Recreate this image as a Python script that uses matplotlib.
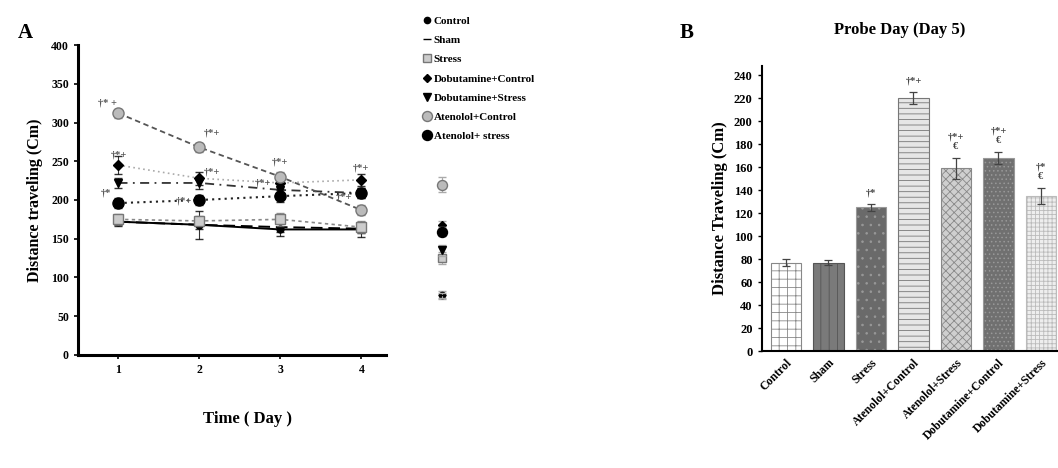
import matplotlib
matplotlib.use("Agg")
import matplotlib.pyplot as plt
import numpy as np

plt.rcParams['font.family'] = ['Liberation Serif', 'DejaVu Serif']
plt.rcParams['font.weight'] = 'bold'
plt.rcParams['hatch.linewidth'] = 0.6

# ---------------- Panel A data ----------------
days = [1, 2, 3, 4]
probe_day = 5
series_names = ["Control", "Sham", "Stress", "Dobutamine+Control",
                "Dobutamine+Stress", "Atenolol+Control", "Atenolol+ stress"]
control_vals = [172, 168, 162, 162]
sham_vals = [172, 168, 165, 163]
stress_vals = [175, 173, 175, 165]
dob_control_vals = [245, 228, 222, 226]
dob_stress_vals = [222, 222, 213, 209]
aten_control_vals = [312, 268, 230, 187]
aten_stress_vals = [196, 200, 205, 209]
control_err = [6, 18, 8, 10]
sham_err = [4, 6, 6, 6]
stress_err = [7, 6, 8, 8]
dob_control_err = [12, 8, 8, 8]
dob_stress_err = [6, 8, 8, 6]
aten_control_err = [6, 6, 6, 6]
aten_stress_err = [6, 6, 8, 6]
day5_vals = [77, 77, 125, 168, 135, 220, 159]
day5_err = [5, 3, 8, 5, 7, 10, 6]

# ---------------- Panel B data ----------------
groups = ["Control", "Sham", "Stress", "Atenolol+Control", "Atenolol+Stress",
          "Dobutamine+Control", "Dobutamine+Stress"]
probe_vals = [77, 77, 125, 220, 159, 168, 135]
probe_err = [3, 2, 3, 5, 9, 5, 7]
probe_marks = ["", "", "†*", "†*+", "†*+\n€", "†*+\n€", "†*\n€"]

fig = plt.figure(figsize=(10.58, 4.68), dpi=100)

# ---------------- Panel A ----------------
axA = fig.add_axes([0.0737, 0.2415, 0.441 - 0.0737, 0.9038 - 0.2415])
styles = [
    dict(ls='-', color='black', marker='o', ms=5, mfc='black', mec='black', lw=1.4),
    dict(ls=(0, (6, 3)), color='black', marker='_', ms=6, mfc='black', mec='black', lw=1.4),
    dict(ls=(0, (2, 2)), color='#888888', marker='s', ms=7, mfc='#cccccc', mec='#777777', lw=1.2),
    dict(ls=(0, (1, 2)), color='#aaaaaa', marker='D', ms=5, mfc='black', mec='black', lw=1.2),
    dict(ls=(0, (5, 3, 1, 3)), color='#333333', marker='v', ms=6, mfc='black', mec='black', lw=1.3),
    dict(ls=(0, (3, 2)), color='#555555', marker='o', ms=8, mfc='#bbbbbb', mec='#777777', lw=1.3),
    dict(ls=(0, (1, 2)), color='#222222', marker='o', ms=8, mfc='black', mec='black', lw=1.5),
]
all_vals = [control_vals, sham_vals, stress_vals, dob_control_vals,
            dob_stress_vals, aten_control_vals, aten_stress_vals]
all_errs = [control_err, sham_err, stress_err, dob_control_err,
            dob_stress_err, aten_control_err, aten_stress_err]
handles = []
for name, vals, errs, st in zip(series_names, all_vals, all_errs, styles):
    axA.errorbar(days, vals, yerr=errs, fmt='none', ecolor=st['mec'], elinewidth=0.8, capsize=3, alpha=0.8)
    axA.plot(days, vals, linestyle=st['ls'], color=st['color'], lw=st['lw'],
             marker=st['marker'], ms=st['ms'], mfc=st['mfc'], mec=st['mec'])
    h, = axA.plot([], [], linestyle='none', marker=st['marker'], ms=st['ms'] * 0.9,
                  mfc=st['mfc'], mec=st['mec'], label=name)
    handles.append(h)
for v, e, st in zip(day5_vals, day5_err, styles):
    axA.errorbar([probe_day], [v], yerr=[e], fmt='none', ecolor='#aaaaaa', elinewidth=0.8, capsize=3)
    axA.plot([probe_day], [v], linestyle='none', marker=st['marker'], ms=st['ms'] * 0.9,
             mfc=st['mfc'], mec=st['mec'])

a_marks = [(0.86, 325, "†* +"), (1.0, 258, "†*+"), (0.85, 209, "†*"),
           (2.15, 286, "†*+"), (2.15, 236, "†*+"), (1.81, 199, "†*+"),
           (3.0, 249, "†*+"), (2.78, 222, "†*+"),
           (4.0, 241, "†*+"), (3.79, 204, "†*+")]
for x, y, t in a_marks:
    axA.text(x, y, t, fontsize=7.5, color='#555555', ha='center', va='center')

axA.set_xlim(0.5, 5.3)
axA.set_ylim(0, 400)
axA.set_xticks(days)
axA.set_yticks(np.arange(0, 401, 50))
axA.spines['top'].set_visible(False)
axA.spines['right'].set_visible(False)
axA.spines['left'].set_linewidth(2.2)
axA.spines['bottom'].set_linewidth(2.2)
axA.spines['bottom'].set_bounds(0.5, 4.3)
axA.tick_params(labelsize=8.5, width=1.2, length=3)
for lab in axA.get_xticklabels() + axA.get_yticklabels():
    lab.set_fontweight('bold')
axA.set_ylabel("Distance traveling (Cm)", fontsize=11.5, fontweight='bold', labelpad=6)
axA.text(2.6, -82, "Time ( Day )", fontsize=12, fontweight='bold', ha='center', va='center')

fig.legend(handles=handles, loc='upper left', bbox_to_anchor=(0.394, 0.975),
           frameon=False, labelspacing=0.85, handletextpad=0.1,
           borderaxespad=0, handlelength=1.0, prop={'weight': 'bold', 'size': 8})

fig.text(18 / 1058, 1 - 33 / 468, "A", fontsize=15, fontweight='bold', ha='left', va='center')
fig.text(680 / 1058, 1 - 33 / 468, "B", fontsize=15, fontweight='bold', ha='left', va='center')

# ---------------- Panel B ----------------
axB = fig.add_axes([0.720, 0.25, 0.280, 0.859 - 0.25])
x = np.arange(len(groups))
faces = ['white', '#7a7a7a', '#6a6a6a', '#e6e6e6', '#cfcfcf', '#707070', '#eeeeee']
hatches = ['++', '||', '..', '---', 'xxxx', '....', '++++']
hcolors = ['#888888', '#555555', '#999999', '#777777', '#888888', '#999999', '#bbbbbb']
bars = axB.bar(x, probe_vals, width=0.72, yerr=probe_err, capsize=3,
               error_kw=dict(elinewidth=0.9, ecolor='#444444', capthick=0.9))
for b, fc, h, hc in zip(bars, faces, hatches, hcolors):
    b.set_facecolor(fc)
    b.set_hatch(h)
    b.set_edgecolor(hc)
    b.set_linewidth(0.8)
for xi, v, e, t in zip(x, probe_vals, probe_err, probe_marks):
    if t:
        axB.text(xi, v + e + 6, t, fontsize=7.5, color='#444444', ha='center', va='bottom',
                 linespacing=1.1)
axB.set_xlim(-0.57, 6.4)
axB.set_ylim(0, 248)
axB.set_yticks(np.arange(0, 241, 20))
axB.set_xticks(x)
axB.set_xticklabels(groups, rotation=45, ha='right', rotation_mode='anchor',
                    fontsize=8.5, fontweight='bold')
axB.tick_params(axis='y', labelsize=9, width=1.0, length=3)
axB.tick_params(axis='x', length=0, pad=4)
for lab in axB.get_yticklabels():
    lab.set_fontweight('bold')
axB.spines['top'].set_visible(False)
axB.spines['right'].set_visible(False)
axB.spines['left'].set_linewidth(1.5)
axB.spines['bottom'].set_linewidth(1.5)
axB.set_ylabel("Distance Traveling (Cm)", fontsize=12, fontweight='bold', labelpad=4)
fig.text(900 / 1058, 1 - 30 / 468, "Probe Day (Day 5)", fontsize=12, fontweight='bold',
         ha='center', va='center')

fig.savefig("out.png", dpi=100)
